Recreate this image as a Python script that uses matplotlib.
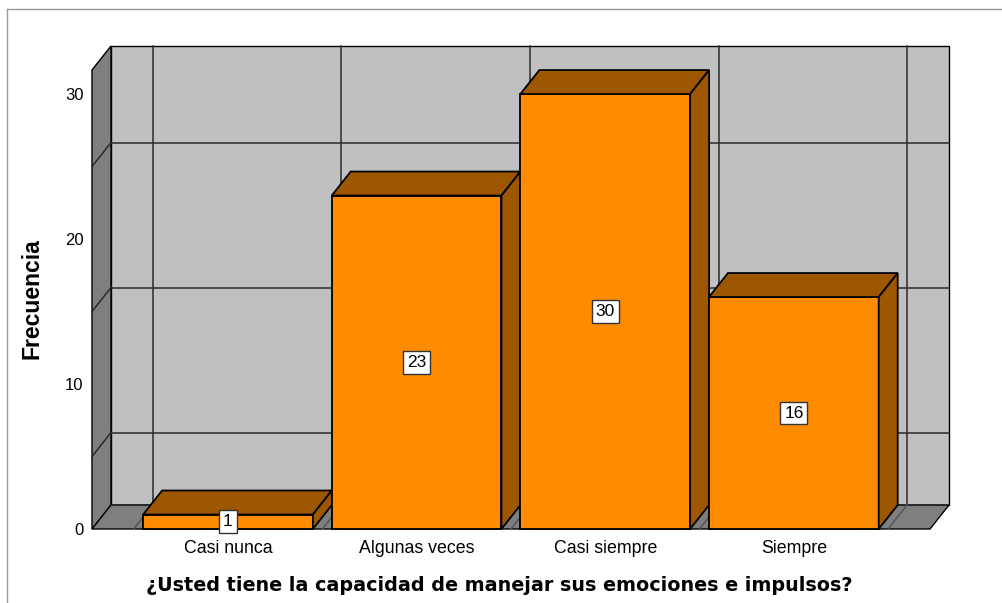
import matplotlib
matplotlib.use("Agg")
import matplotlib.pyplot as plt
from matplotlib.patches import Polygon
from matplotlib.lines import Line2D

categorias = ["Casi nunca", "Algunas veces", "Casi siempre", "Siempre"]
frecuencias = [1, 23, 30, 16]
yticks = [0, 10, 20, 30]
grid_y = [5, 15, 25]

# geometria de la caja 3D (unidades de datos)
DX, DY = 0.1007, 1.655
XL, XR = -0.721, 3.722
YT = 31.66
ancho = 0.45

naranja = "#FF8C00"
marron = "#9C5700"
gris_fondo = "#C0C0C0"
gris_osc = "#7F7F7F"

fig = plt.figure(figsize=(10.02, 6.03), dpi=100)
ax = fig.add_axes([92/1002, (603-529)/603, (949-92)/1002, (529-46)/603])
ax.set_xlim(XL, XR + DX)
ax.set_ylim(0, YT + DY)
ax.patch.set_visible(False)
for s in ax.spines.values():
    s.set_visible(False)

def poly(pts, fc, z, lw=1.0):
    ax.add_patch(Polygon(pts, closed=True, facecolor=fc, edgecolor="black",
                         linewidth=lw, zorder=z, clip_on=False))

def linea(xs, ys, z, c="#2a2a2a", lw=1.1):
    ax.add_line(Line2D(xs, ys, color=c, linewidth=lw, zorder=z, clip_on=False))

# paredes
poly([(XL+DX, DY), (XR+DX, DY), (XR+DX, YT+DY), (XL+DX, YT+DY)], gris_fondo, 1)
poly([(XL, 0), (XL+DX, DY), (XL+DX, YT+DY), (XL, YT)], gris_osc, 1)
poly([(XL, 0), (XR, 0), (XR+DX, DY), (XL+DX, DY)], gris_osc, 1)

# rejilla
for g in grid_y:
    linea([XL+DX, XR+DX], [g+DY, g+DY], 2)
    linea([XL, XL+DX], [g, g+DY], 2)
for i in range(len(categorias) + 1):
    xg = i - 0.5
    linea([xg+DX, xg+DX], [DY, YT+DY], 2)
    linea([xg, xg+DX], [0, DY], 2, c="#555555")

# barras
for i, v in enumerate(frecuencias):
    x0, x1 = i - ancho, i + ancho
    poly([(x0, 0), (x1, 0), (x1, v), (x0, v)], naranja, 5, 1.3)
    poly([(x0, v), (x1, v), (x1+DX, v+DY), (x0+DX, v+DY)], marron, 5, 1.3)
    poly([(x1, 0), (x1+DX, DY), (x1+DX, v+DY), (x1, v)], marron, 5, 1.3)
    ax.text(i, v/2, str(v), ha="center", va="center", fontsize=12.5,
            family="Liberation Sans", zorder=6,
            bbox=dict(boxstyle="square,pad=0.22", fc="white", ec="#333333", lw=1.0))

ax.set_xticks(range(len(categorias)))
ax.set_xticklabels(categorias, fontsize=12.8, family="Liberation Sans")
ax.set_yticks(yticks)
ax.set_yticklabels([str(t) for t in yticks], fontsize=12, family="Liberation Sans")
ax.tick_params(axis="both", length=0)
ax.tick_params(axis="x", pad=8)
ax.tick_params(axis="y", pad=6)

ax.set_xlabel("¿Usted tiene la capacidad de manejar sus emociones e impulsos?",
              fontsize=13.8, fontweight="bold")
ax.xaxis.set_label_coords((499-92)/857, (529-576)/483)
ax.set_ylabel("Frecuencia", fontsize=16.6, fontweight="bold", family="Liberation Sans")
ax.yaxis.set_label_coords((43-92)/857, (529-299)/483)

# marco exterior
fig.add_artist(Line2D([7/1002, 7/1002], [0, 1-9/603], color="#999999", lw=1))
fig.add_artist(Line2D([7/1002, 1], [1-9/603, 1-9/603], color="#999999", lw=1))

fig.savefig("out.png", dpi=100, facecolor="white")
